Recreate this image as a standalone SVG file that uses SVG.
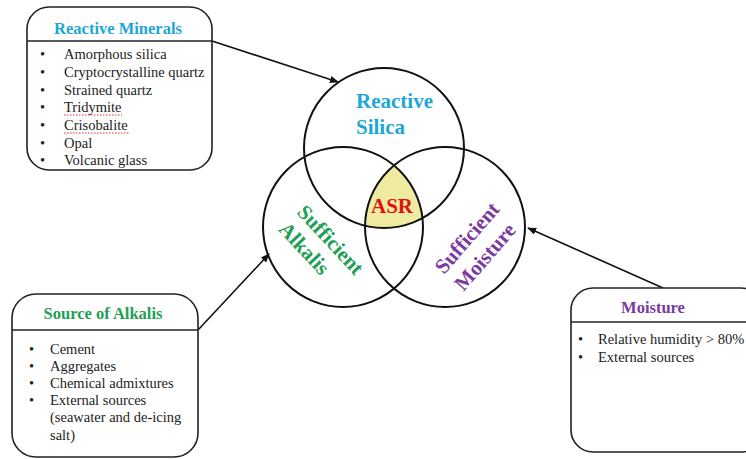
<svg xmlns="http://www.w3.org/2000/svg" width="746" height="459" viewBox="0 0 746 459">
<style>
.box{fill:#fff;stroke:#222;stroke-width:1.6}
.hdr{stroke:#222;stroke-width:1.6}
.circ{fill:none;stroke:#111;stroke-width:2}
text{font-family:'Liberation Serif','Times New Roman','DejaVu Serif',serif}
.title{font-weight:bold;font-size:16.5px;text-anchor:middle}
.item{font-size:14.5px;fill:#222}
.venn{font-weight:bold;font-size:21px}
.conn{stroke:#111;stroke-width:1.6;fill:none;marker-end:url(#ah)}
.spell{stroke:#e03030;stroke-width:1;stroke-dasharray:1.5 1.5}
</style>
<defs>
<marker id="ah" viewBox="0 0 10 10" refX="9" refY="5" markerWidth="9" markerHeight="9" markerUnits="userSpaceOnUse" orient="auto">
<path d="M0,1 L10,5 L0,9 z" fill="#111"/>
</marker>
<clipPath id="cL"><circle cx="343" cy="227" r="80"/></clipPath>
<clipPath id="cR"><circle cx="445" cy="227" r="80"/></clipPath>
</defs>
<rect width="746" height="459" fill="#fff"/>

<g id="venn">
<g clip-path="url(#cL)"><circle cx="384" cy="148" r="80" fill="#efeba0" clip-path="url(#cR)"/></g>
<circle class="circ" cx="384" cy="148" r="80"/>
<circle class="circ" cx="343" cy="227" r="80"/>
<circle class="circ" cx="445" cy="227" r="80"/>
</g>

<g id="reactive-silica">
<text class="venn" fill="#1ea6d8" x="356" y="108">Reactive</text>
<text class="venn" fill="#1ea6d8" x="356" y="134">Silica</text>
</g>
<g id="asr">
<text class="venn" fill="#e01010" x="392" y="213" text-anchor="middle">ASR</text>
</g>
<g id="sufficient-alkalis" transform="translate(296,213) rotate(47)">
<text class="venn" fill="#1ea055" x="0" y="0">Sufficient</text>
<text class="venn" fill="#1ea055" x="0" y="25">Alkalis</text>
</g>
<g id="sufficient-moisture" transform="translate(444,275) rotate(-49)">
<text class="venn" fill="#7a3aa0" x="0" y="0">Sufficient</text>
<text class="venn" fill="#7a3aa0" x="0" y="26">Moisture</text>
</g>

<g id="connectors">
<line class="conn" x1="212" y1="41" x2="338" y2="82"/>
<line class="conn" x1="198" y1="330" x2="269" y2="254"/>
<line class="conn" x1="663" y1="288" x2="528" y2="228"/>
</g>

<g id="reactive-minerals">
<rect class="box" x="27" y="7" width="185" height="163" rx="22"/>
<line class="hdr" x1="27" y1="41" x2="212" y2="41"/>
<text class="title" fill="#1ea6d8" x="118" y="34">Reactive Minerals</text>
<g class="item">
<text x="40" y="59">•</text><text x="64" y="59">Amorphous silica</text>
<text x="40" y="77">•</text><text x="64" y="77">Cryptocrystalline quartz</text>
<text x="40" y="95">•</text><text x="64" y="95">Strained quartz</text>
<text x="40" y="112">•</text><text x="64" y="112">Tridymite</text>
<text x="40" y="130">•</text><text x="64" y="130">Crisobalite</text>
<text x="40" y="148">•</text><text x="64" y="148">Opal</text>
<text x="40" y="165">•</text><text x="64" y="165">Volcanic glass</text>
</g>
<line class="spell" x1="64" y1="115" x2="122" y2="115"/>
<line class="spell" x1="64" y1="133" x2="130" y2="133"/>
</g>

<g id="source-of-alkalis">
<rect class="box" x="12" y="294" width="186" height="163" rx="24"/>
<line class="hdr" x1="12" y1="330" x2="198" y2="330"/>
<text class="title" fill="#1ea055" x="103" y="319">Source of Alkalis</text>
<g class="item">
<text x="29" y="354">•</text><text x="50" y="354">Cement</text>
<text x="29" y="371">•</text><text x="50" y="371">Aggregates</text>
<text x="29" y="388">•</text><text x="50" y="388">Chemical admixtures</text>
<text x="29" y="405">•</text><text x="50" y="405">External sources</text>
<text x="50" y="422">(seawater and de-icing</text>
<text x="50" y="440">salt)</text>
</g>
</g>

<g id="moisture">
<rect class="box" x="571" y="288" width="192" height="164" rx="22"/>
<line class="hdr" x1="571" y1="322" x2="763" y2="322"/>
<text class="title" fill="#7a3aa0" x="653" y="313">Moisture</text>
<g class="item">
<text x="578" y="344">•</text><text x="598" y="344">Relative humidity &gt; 80%</text>
<text x="578" y="362">•</text><text x="598" y="362">External sources</text>
</g>
</g>
</svg>
